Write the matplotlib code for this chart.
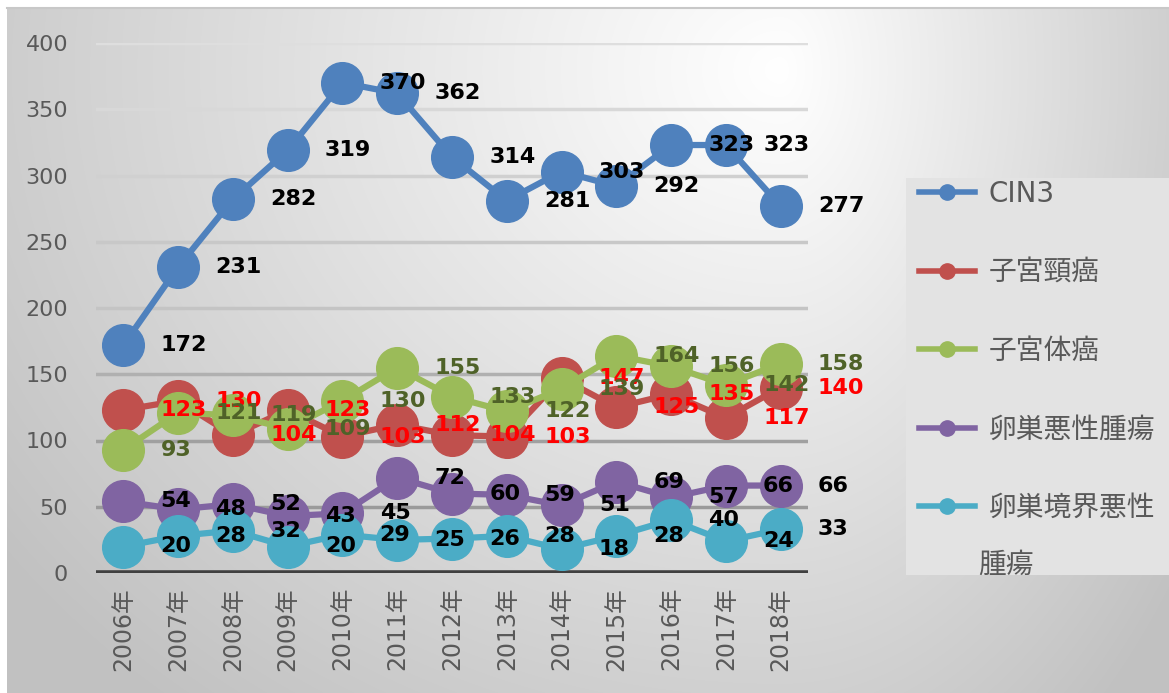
import numpy as np
import matplotlib.pyplot as plt
from matplotlib.lines import Line2D
from matplotlib.patches import Rectangle

plt.rcParams['font.family'] = ['DejaVu Sans', 'Noto Sans CJK JP']

years = ['2006年', '2007年', '2008年', '2009年', '2010年', '2011年', '2012年',
         '2013年', '2014年', '2015年', '2016年', '2017年', '2018年']
cin3 = [172, 231, 282, 319, 370, 362, 314, 281, 303, 292, 323, 323, 277]
cervix = [123, 130, 104, 123, 103, 112, 104, 103, 147, 125, 135, 117, 140]
corpus = [93, 121, 119, 109, 130, 155, 133, 122, 139, 164, 156, 142, 158]
ovary = [54, 48, 52, 43, 45, 72, 60, 59, 51, 69, 57, 66, 66]
borderline = [20, 28, 32, 20, 29, 25, 26, 28, 18, 28, 40, 24, 33]

series = [
    ('CIN3', cin3, '#4F81BD', 'black'),
    ('子宮頸癌', cervix, '#C0504D', '#FF0000'),
    ('子宮体癌', corpus, '#9BBB59', '#4F6228'),
    ('卵巣悪性腫瘍', ovary, '#8064A2', 'black'),
    ('卵巣境界悪性', borderline, '#4BACC6', 'black'),
]

W, H = 1169, 693
fig = plt.figure(figsize=(W / 100, H / 100), dpi=100)
fig.patch.set_facecolor('white')

# gradient background
bg = fig.add_axes([7 / W, 0, 1 - 7 / W, 1 - 8 / H], zorder=-5)
yy, xx = np.mgrid[8:H, 7:W]
dx = (xx - 780) / np.where(xx < 780, 800.0, 420.0)
dy = (yy - 70) / 680.0
r = np.clip(np.sqrt(dx ** 2 + dy ** 2), 0, 1.2)
g = 1.0 - 0.2 * r
bg.imshow(np.dstack([g, g, g]), aspect='auto', extent=[0, 1, 0, 1])
bg.axis('off')
fig.add_artist(Line2D([7 / W, 1], [1 - 8 / H, 1 - 8 / H], color='#c8c8c8', lw=1.5))

# legend background
fig.add_artist(Rectangle((906 / W, 1 - 575 / H), (W - 906) / W, (575 - 178) / H,
                         transform=fig.transFigure, facecolor='#e3e3e3',
                         edgecolor='none', zorder=0))

ax = fig.add_axes([96 / W, 120 / H, 712 / W, 530 / H])
ax.patch.set_alpha(0)
x = np.arange(len(years))

grid_cols = ['#404040', '#9a9a9a', '#a0a0a0', '#b0b0b0', '#c4c4c4', '#c8c8c8',
             '#d0d0d0', '#d8d8d8', '#dedede']
for i, v in enumerate(range(0, 401, 50)):
    ax.axhline(v, color=grid_cols[i], lw=4 if v == 0 else 2.5, zorder=1)

for name, vals, col, lcol in series:
    ax.plot(x, vals, color=col, lw=4.5, marker='o', markersize=30,
            label=name, zorder=3, clip_on=False)

for name, vals, col, lcol in series:
    for xi, v in zip(x, vals):
        ax.text(xi + 0.68, v, str(v), color=lcol, fontsize=16, fontweight='bold',
                ha='left', va='center', zorder=5, clip_on=False)

ax.set_xlim(-0.5, 12.5)
ax.set_ylim(0, 400)
ax.set_xticks(x)
ax.set_xticklabels(years, rotation=90, fontsize=17, color='#595959')
ax.set_yticks(range(0, 401, 50))
ax.tick_params(axis='y', labelsize=16, labelcolor='#595959', length=0, pad=20)
ax.tick_params(axis='x', length=0, pad=10)
for s in ax.spines.values():
    s.set_visible(False)

handles = [Line2D([], [], color=c, lw=4, marker='o', markersize=11)
           for _, _, c, _ in series]
labels = [s[0] for s in series]
leg = fig.legend(handles, labels, loc='upper left',
                 bbox_to_anchor=(919 / W, 1 - 180 / H), frameon=False,
                 fontsize=20, labelspacing=1.82, handlelength=2.0,
                 handletextpad=0.5, borderpad=0, borderaxespad=0)
for t in leg.get_texts():
    t.set_color('#595959')
fig.text(978 / W, 1 - 565 / H, '腫瘍', fontsize=20, color='#595959',
         ha='left', va='center')

fig.savefig('out.png', dpi=100)
